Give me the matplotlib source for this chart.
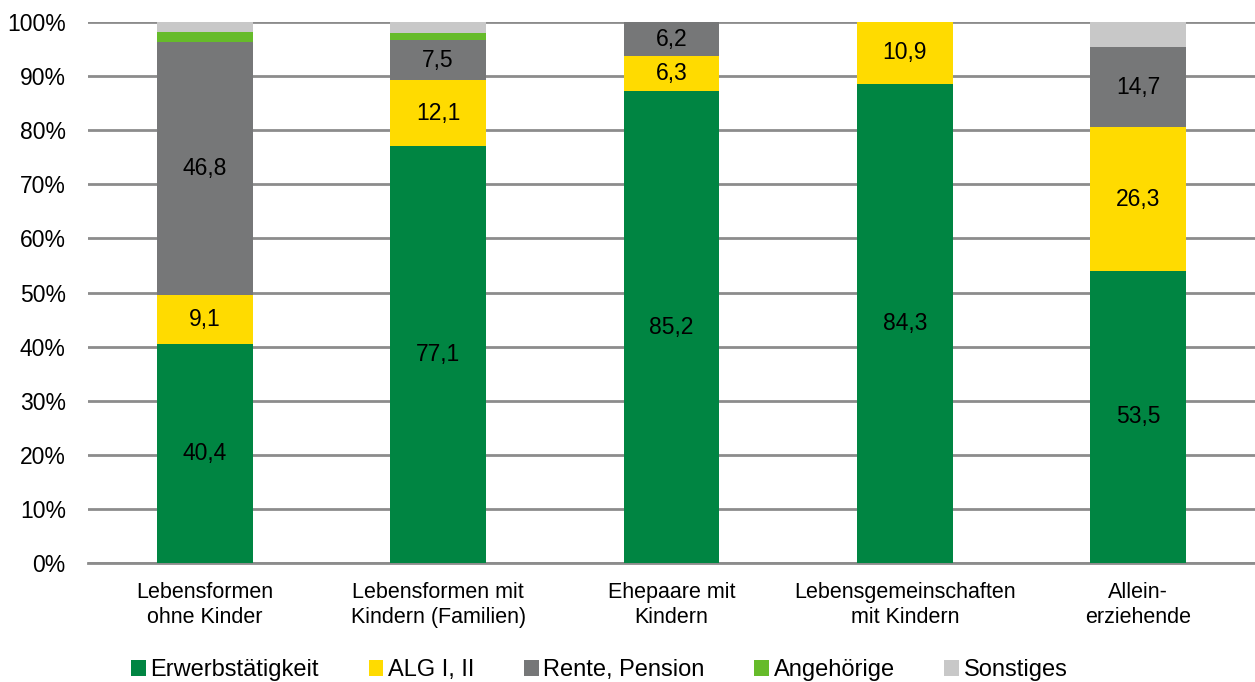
import numpy as np
import matplotlib.pyplot as plt
from matplotlib.patches import Patch

plt.rcParams['font.family'] = ['Liberation Sans', 'DejaVu Sans']

# Lebensformen nach überwiegendem Lebensunterhalt (Anteile in %)
kategorien = ['Lebensformen\nohne Kinder', 'Lebensformen mit\nKindern (Familien)',
              'Ehepaare mit\nKindern', 'Lebensgemeinschaften\nmit Kindern',
              'Allein-\nerziehende']
erwerb = [40.4, 77.1, 85.2, 84.3, 53.5]
alg = [9.1, 12.1, 6.3, 10.9, 26.3]
rente = [46.8, 7.5, 6.2, 0.0, 14.7]
angehoerige = [1.9, 1.2, 0.0, 0.0, 0.0]
sonstiges = [1.8, 2.1, 0.0, 0.0, 4.6]

reihen = ['Erwerbstätigkeit', 'ALG I, II', 'Rente, Pension', 'Angehörige', 'Sonstiges']
farben = ['#008542', '#ffdb00', '#767778', '#66bb2a', '#c8c8c8']
beschriftet = [True, True, True, False, False]

werte = np.array([erwerb, alg, rente, angehoerige, sonstiges])
# auf 100 % je Säule normieren
anteile = werte / werte.sum(axis=0) * 100

fig = plt.figure(figsize=(12.55, 6.82), dpi=100)
ax = fig.add_axes([88 / 1255, 1 - 563 / 682, 1167 / 1255, 541 / 682])

x = np.arange(len(kategorien))
unten = np.zeros(len(kategorien))
for i in range(len(reihen)):
    ax.bar(x, anteile[i], bottom=unten, width=0.41, color=farben[i], zorder=3)
    if beschriftet[i]:
        for j in range(len(kategorien)):
            if werte[i, j] > 0:
                ax.text(x[j], unten[j] + anteile[i, j] / 2,
                        f'{werte[i, j]:.1f}'.replace('.', ','),
                        ha='center', va='center', fontsize=16.5, zorder=4)
    unten += anteile[i]

ax.set_xlim(-0.5, 4.5)
ax.set_ylim(0, 100)
ax.set_yticks(np.arange(0, 101, 10))
ax.set_yticklabels([f'{v}%' for v in range(0, 101, 10)], fontsize=16.5)
ax.set_xticks(x)
ax.set_xticklabels(kategorien, fontsize=15.5, linespacing=1.25)
ax.tick_params(axis='both', length=0)
ax.tick_params(axis='y', pad=16)
ax.tick_params(axis='x', pad=14)

ax.grid(axis='y', color='#8c8c8c', linewidth=2, zorder=1)
for s in ['top', 'right', 'left']:
    ax.spines[s].set_visible(False)
ax.spines['bottom'].set_color('#8c8c8c')
ax.spines['bottom'].set_linewidth(2)

handles = [Patch(facecolor=c, label=r) for c, r in zip(farben, reihen)]
fig.legend(handles=handles, loc='lower left', bbox_to_anchor=(110 / 1255, -0.03),
           ncol=5, frameon=False, fontsize=17, handlelength=0.62, handleheight=0.62,
           handletextpad=0.2, columnspacing=2.1)

fig.savefig('out.png', dpi=100)
